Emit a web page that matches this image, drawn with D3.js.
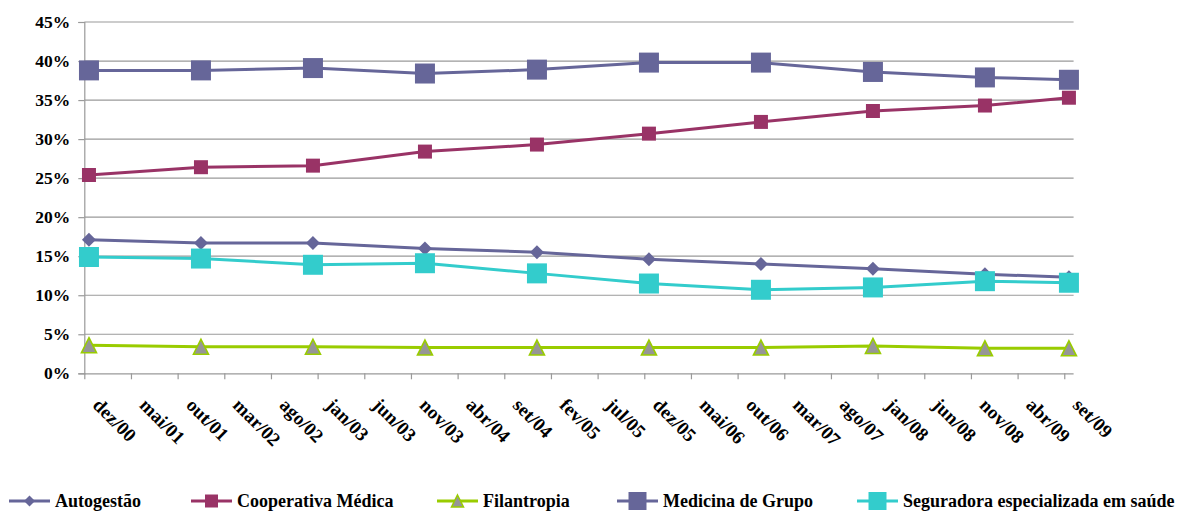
<!DOCTYPE html>
<html>
<head>
<meta charset="utf-8">
<script src="https://cdn.jsdelivr.net/npm/d3@7"></script>
<style>
  html, body { margin: 0; padding: 0; background: #fff; }
  svg text { font-family: "Liberation Serif", "Times New Roman", serif; font-weight: bold; fill: #000; }
</style>
</head>
<body>
<svg id="chart" width="1183" height="513"></svg>
<script>
// Participação no mercado por modalidade de operadora (dez/00 a set/09)
const pointLabels = ["dez/00", "dez/01", "dez/02", "dez/03", "dez/04", "dez/05", "dez/06", "dez/07", "dez/08", "set/09"];
const tickLabels = ["dez/00", "mai/01", "out/01", "mar/02", "ago/02", "jan/03", "jun/03", "nov/03", "abr/04", "set/04", "fev/05",
                    "jul/05", "dez/05", "mai/06", "out/06", "mar/07", "ago/07", "jan/08", "jun/08", "nov/08", "abr/09", "set/09"];
const yTicks = [0, 5, 10, 15, 20, 25, 30, 35, 40, 45];

const autogestao  = [17.1, 16.7, 16.7, 16.0, 15.5, 14.6, 14.0, 13.4, 12.7, 12.3];
const cooperativa = [25.4, 26.4, 26.6, 28.4, 29.3, 30.7, 32.2, 33.6, 34.3, 35.3];
const filantropia = [3.6, 3.4, 3.4, 3.3, 3.3, 3.3, 3.3, 3.5, 3.2, 3.2];
const medicina    = [38.8, 38.8, 39.1, 38.4, 38.9, 39.8, 39.8, 38.6, 37.9, 37.6];
const seguradora  = [14.9, 14.7, 13.9, 14.1, 12.8, 11.5, 10.7, 11.0, 11.8, 11.6];

const seriesNames = ["Autogestão", "Cooperativa Médica", "Filantropia", "Medicina de Grupo", "Seguradora especializada em saúde"];

// month-abbreviation -> month number, used to turn "mmm/yy" labels into a month index
const monthNames = ["jan", "fev", "mar", "abr", "mai", "jun", "jul", "ago", "set", "out", "nov", "dez"];
const monthIndex = s => {
  const [m, yy] = s.split("/");
  return (2000 + +yy) * 12 + monthNames.indexOf(m);
};
const m0 = monthIndex(tickLabels[0]);
const mEnd = monthIndex(tickLabels[tickLabels.length - 1]) + 1;

const series = [
  { name: seriesNames[0], values: autogestao,  color: "#666699", marker: "diamond",  size: 14, legendSize: 11 },
  { name: seriesNames[1], values: cooperativa, color: "#993366", marker: "square",   size: 14, legendSize: 13 },
  { name: seriesNames[2], values: filantropia, color: "#99CC00", marker: "triangle", size: 15, legendSize: 12, fill: "#969696" },
  { name: seriesNames[3], values: medicina,    color: "#666699", marker: "square",   size: 20, legendSize: 18 },
  { name: seriesNames[4], values: seguradora,  color: "#33CCCC", marker: "square",   size: 20, legendSize: 18 }
];

const svg = d3.select("#chart");
const plotLeft = 84.3, plotRight = 1073.6, plotTop = 22, plotBottom = 373.3;

const x = d3.scaleLinear().domain([m0, mEnd]).range([plotLeft, plotRight]);
const y = d3.scaleLinear().domain([0, 45]).range([plotBottom, plotTop]);

// horizontal gridlines
svg.append("g")
  .selectAll("line")
  .data(yTicks.filter(d => d > 0))
  .join("line")
  .attr("x1", plotLeft).attr("x2", plotRight)
  .attr("y1", d => y(d)).attr("y2", d => y(d))
  .attr("stroke", "#9a9a9a").attr("stroke-width", 1.2);

// y axis
const yAxis = svg.append("g")
  .attr("transform", `translate(${plotLeft},0)`)
  .call(d3.axisLeft(y).tickValues(yTicks).tickSize(6).tickPadding(8).tickFormat(d => d + "%"));
yAxis.select(".domain").attr("stroke", "#9a9a9a").attr("stroke-width", 1.2);
yAxis.selectAll(".tick line").attr("stroke", "#9a9a9a").attr("stroke-width", 1.2);
yAxis.selectAll(".tick text")
  .style("font-family", "'Liberation Serif', serif").style("font-weight", "bold")
  .style("font-size", "17.5px").attr("fill", "#000");

// x axis: date axis in months, ticks every 5 months
const xAxis = svg.append("g")
  .attr("transform", `translate(0,${plotBottom})`)
  .call(d3.axisBottom(x)
    .tickValues(tickLabels.map(monthIndex))
    .tickSize(6)
    .tickFormat((d, i) => tickLabels[i]));
xAxis.select(".domain").attr("stroke", "#9a9a9a").attr("stroke-width", 1.2)
  .attr("d", `M${plotLeft},0.5H${plotRight}`);
xAxis.selectAll(".tick line").attr("stroke", "#9a9a9a").attr("stroke-width", 1.2);
xAxis.selectAll(".tick text")
  .style("font-family", "'Liberation Serif', serif").style("font-weight", "bold")
  .style("font-size", "19px").attr("fill", "#000")
  .attr("text-anchor", "start")
  .attr("dy", null)
  .attr("y", 0)
  .attr("transform", "translate(7,33) rotate(45)");

// marker shapes
function markerPath(type, s) {
  const h = s / 2;
  if (type === "diamond") return `M0,${-h}L${h},0L0,${h}L${-h},0Z`;
  if (type === "triangle") return `M0,${-h}L${h},${h}L${-h},${h}Z`;
  return `M${-h},${-h}H${h}V${h}H${-h}Z`;
}

const px = i => x(monthIndex(pointLabels[i]) + 0.5);
const line = d3.line().x((d, i) => px(i)).y(d => y(d));

series.forEach(s => {
  const g = svg.append("g");
  g.append("path")
    .attr("d", line(s.values))
    .attr("fill", "none")
    .attr("stroke", s.color)
    .attr("stroke-width", 3)
    .attr("stroke-linejoin", "round");
  g.selectAll("path.mk")
    .data(s.values)
    .join("path")
    .attr("class", "mk")
    .attr("transform", (d, i) => `translate(${px(i)},${y(d)})`)
    .attr("d", markerPath(s.marker, s.size))
    .attr("fill", s.fill || s.color)
    .attr("stroke", s.fill ? s.color : "none")
    .attr("stroke-width", s.fill ? 1.6 : 0);
});

// legend: each entry is a short line with its marker, followed by the series name
const legendTextX = [55, 237, 483, 663, 903];
const legendY = 501;
const legend = svg.append("g");
series.forEach((s, i) => {
  const g = legend.append("g").attr("transform", `translate(${legendTextX[i]},${legendY})`);
  g.append("line").attr("x1", -46).attr("x2", -5).attr("y1", 0).attr("y2", 0)
    .attr("stroke", s.color).attr("stroke-width", 3);
  g.append("path")
    .attr("transform", "translate(-25.5,0)")
    .attr("d", markerPath(s.marker, s.legendSize))
    .attr("fill", s.fill || s.color)
    .attr("stroke", s.fill ? s.color : "none")
    .attr("stroke-width", s.fill ? 1.5 : 0);
  g.append("text")
    .attr("x", 0).attr("y", 5.5)
    .style("font-size", "18px")
    .text(s.name);
});
</script>
</body>
</html>
